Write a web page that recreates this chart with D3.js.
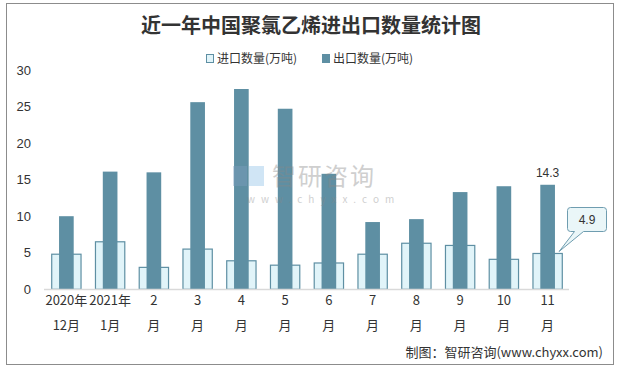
<!DOCTYPE html>
<html><head><meta charset="utf-8">
<script src="https://cdn.jsdelivr.net/npm/d3@7"></script>
<style>body{margin:0;background:#fff;}svg{display:block;font-family:"Noto Sans CJK SC","Noto Sans",sans-serif;}</style>
</head><body><svg id="c" width="620" height="369"></svg>
<script>
const categories = ["2020年\n12月","2021年\n1月","2\n月","3\n月","4\n月","5\n月","6\n月","7\n月","8\n月","9\n月","10\n月","11\n月"];
const importValues = [4.8,6.5,3.0,5.5,3.9,3.3,3.6,4.8,6.3,6.0,4.1,4.9];
const exportValues = [10.0,16.1,16.0,25.6,27.4,24.7,15.8,9.2,9.6,13.3,14.1,14.3];
const yTicks = [0,5,10,15,20,25,30];
const seriesNames = ["进口数量(万吨)","出口数量(万吨)"];

const svg = d3.select("#c");
const expColor = "#5e8fa3", impFill = "#e1f4f9", impStroke = "#5e8fa3";

svg.append("rect").attr("x",6.5).attr("y",3.5).attr("width",607).attr("height",361)
  .attr("fill","#fff").attr("stroke","#8c8c8c").attr("stroke-width",1);

svg.append("text").attr("x",311).attr("y",33).attr("text-anchor","middle")
  .attr("font-size",20).attr("font-weight","bold").attr("fill","#333").text("近一年中国聚氯乙烯进出口数量统计图");

const x = d3.scaleBand().domain(categories).range([44,569]).padding(0);
const y = d3.scaleLinear().domain([0,30]).range([289.3,70]);

// bars
const iw = x.bandwidth()*0.67, ew = x.bandwidth()*0.335;
svg.append("g").selectAll("rect").data(categories).join("rect")
  .attr("x",d=>x(d)+x.bandwidth()/2-iw/2+0.5).attr("width",iw)
  .attr("y",(d,i)=>y(importValues[i])).attr("height",(d,i)=>y(0)-y(importValues[i]))
  .attr("fill",impFill).attr("stroke",impStroke).attr("stroke-width",1.2);
svg.append("g").selectAll("rect").data(categories).join("rect")
  .attr("x",d=>x(d)+x.bandwidth()/2-ew/2+0.5).attr("width",ew)
  .attr("y",(d,i)=>y(exportValues[i])).attr("height",(d,i)=>y(0)-y(exportValues[i]))
  .attr("fill",expColor);

// watermark (semi-transparent, over bars)
const wm = svg.append("g").attr("opacity",0.4);
wm.append("rect").attr("x",233).attr("y",166).attr("width",14).attr("height",20).attr("fill","#7f9fbf");
wm.append("rect").attr("x",249).attr("y",166).attr("width",15).attr("height",20).attr("fill","#8cc0e8");
wm.append("text").attr("x",272).attr("y",185).attr("font-size",24).attr("letter-spacing",2).attr("fill","#888").text("智研咨询");
wm.append("text").attr("x",247).attr("y",203).attr("font-size",10).attr("letter-spacing",6).attr("fill","#888").text("www.chyxx.com");

// axis line
svg.append("line").attr("x1",44).attr("x2",569).attr("y1",289.5).attr("y2",289.5).attr("stroke","#d9d9d9").attr("stroke-width",1.5);

// y axis
const ya = svg.append("g").attr("transform","translate(31,0)")
  .call(d3.axisLeft(y).tickValues(yTicks).tickSize(0).tickPadding(0));
ya.select(".domain").remove();
ya.selectAll("text").attr("font-size",13).attr("fill","#333").attr("font-family","Arial,'Liberation Sans',sans-serif");

// x labels
const xa = svg.append("g");
categories.forEach(c=>{
  const lines = c.split("\n");
  const t = xa.append("text").attr("x",x(c)+x.bandwidth()/2+0.5).attr("text-anchor","middle").attr("font-size",13).attr("fill","#333");
  lines.forEach((l,k)=>t.append("tspan").attr("x",x(c)+x.bandwidth()/2+0.5).attr("y",305+k*25).text(l));
});

// legend
const lg = svg.append("g");
lg.append("rect").attr("x",206.5).attr("y",54.5).attr("width",7).attr("height",8).attr("fill",impFill).attr("stroke",impStroke);
lg.append("text").attr("x",217).attr("y",63).attr("font-size",12).attr("fill","#333").text(seriesNames[0]);
lg.append("rect").attr("x",322).attr("y",54).attr("width",8).attr("height",9).attr("fill",expColor);
lg.append("text").attr("x",333).attr("y",63).attr("font-size",12).attr("fill","#333").text(seriesNames[1]);

// labels for last category
const last = categories.length-1;
const lc = x(categories[last])+x.bandwidth()/2;
svg.append("text").attr("x",lc+0.5).attr("y",y(exportValues[last])-8).attr("text-anchor","middle")
  .attr("font-size",12).attr("fill","#333").attr("font-family","Arial,'Liberation Sans',sans-serif").text(exportValues[last].toFixed(1));
const ty = y(importValues[last]);
const bx=567.5, by=207.5, bw=39, bh=24;
svg.append("path").attr("d",`M${bx+3},${by} H${bx+bw-3} Q${bx+bw},${by} ${bx+bw},${by+3} V${by+bh-3} Q${bx+bw},${by+bh} ${bx+bw-3},${by+bh} H${bx+16} L${lc+12},${ty-2} L${bx+7},${by+bh} H${bx+3} Q${bx},${by+bh} ${bx},${by+bh-3} V${by+3} Q${bx},${by} ${bx+3},${by} Z`)
  .attr("fill","#eaf6f8").attr("stroke","#6f9db0").attr("stroke-width",1);
svg.append("text").attr("x",bx+bw/2).attr("y",by+16.5).attr("text-anchor","middle")
  .attr("font-size",12).attr("fill","#333").attr("font-family","Arial,'Liberation Sans',sans-serif").text(importValues[last].toFixed(1));

// source
svg.append("text").attr("x",603).attr("y",357).attr("text-anchor","end").attr("font-size",13).attr("fill","#333").text("制图：智研咨询(www.chyxx.com)");
</script></body></html>
